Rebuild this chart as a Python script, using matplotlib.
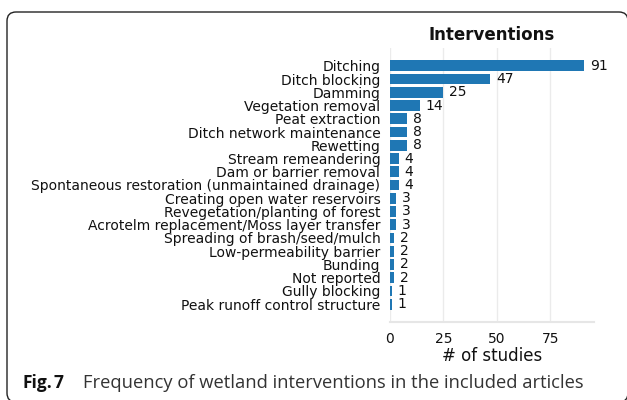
import matplotlib
matplotlib.use("Agg")
import matplotlib.pyplot as plt
from matplotlib.patches import FancyBboxPatch
from matplotlib.transforms import IdentityTransform

categories = [
    "Ditching", "Ditch blocking", "Damming", "Vegetation removal",
    "Peat extraction", "Ditch network maintenance", "Rewetting",
    "Stream remeandering", "Dam or barrier removal",
    "Spontaneous restoration (unmaintained drainage)",
    "Creating open water reservoirs", "Revegetation/planting of forest",
    "Acrotelm replacement/Moss layer transfer",
    "Spreading of brash/seed/mulch", "Low-permeability barrier",
    "Bunding", "Not reported", "Gully blocking",
    "Peak runoff control structure",
]
counts = [91, 47, 25, 14, 8, 8, 8, 4, 4, 4, 3, 3, 3, 2, 2, 2, 2, 1, 1]
xticks = [0, 25, 50, 75]

W, H = 627, 400
fig = plt.figure(figsize=(W / 100, H / 100), dpi=100)
fig.patch.set_facecolor("white")

ax = fig.add_axes([390 / W, (H - 322) / H, (594 - 390) / W, (322 - 48) / H])
ypos = list(range(len(categories)))
ax.barh(ypos, counts, height=0.8, color="#1f77b4", zorder=2)
ax.invert_yaxis()
ax.set_yticks(ypos)
ax.set_yticklabels(categories)
ax.set_xticks(xticks)
ax.margins(x=0.05, y=0.05)
ax.set_xlim(0, max(counts) * 1.05)

for y, v in zip(ypos, counts):
    ax.annotate(str(v), (v, y), xytext=(4, 0), textcoords="offset points",
                va="center", ha="left", fontsize=10, color="#111111")

ax.grid(axis="x", color="#ebebeb", linewidth=1, zorder=0)
ax.set_axisbelow(True)
for s in ["left", "right", "top"]:
    ax.spines[s].set_visible(False)
ax.spines["bottom"].set_color("#e6e6e6")
ax.spines["bottom"].set_linewidth(1.5)
ax.tick_params(axis="both", length=0, labelsize=10, labelcolor="#111111")
ax.tick_params(axis="y", pad=7)
ax.tick_params(axis="x", pad=7)
ax.set_xlabel("# of studies", fontsize=12, color="#111111", labelpad=1)
ax.set_title("Interventions", fontsize=12, fontweight="bold", color="#111111", pad=6)

box = FancyBboxPatch((7, -2), 621, 390, boxstyle="round,pad=0,rounding_size=9",
                     transform=IdentityTransform(), facecolor="none",
                     edgecolor="#222222", linewidth=1.0)
fig.patches.append(box)

fig.text(23 / W, (H - 388) / H, "Fig.", fontsize=12.5, fontweight="bold",
         family="Open Sans", color="#111111", va="baseline", ha="left")
fig.text(53 / W, (H - 388) / H, "7", fontsize=12.5, fontweight="bold",
         family="Open Sans", color="#111111", va="baseline", ha="left")
fig.text(83 / W, (H - 388) / H,
         "Frequency of wetland interventions in the included articles",
         fontsize=13.2, family="Open Sans", color="#333333", va="baseline", ha="left")

fig.savefig("out.png", dpi=100, facecolor="white")
